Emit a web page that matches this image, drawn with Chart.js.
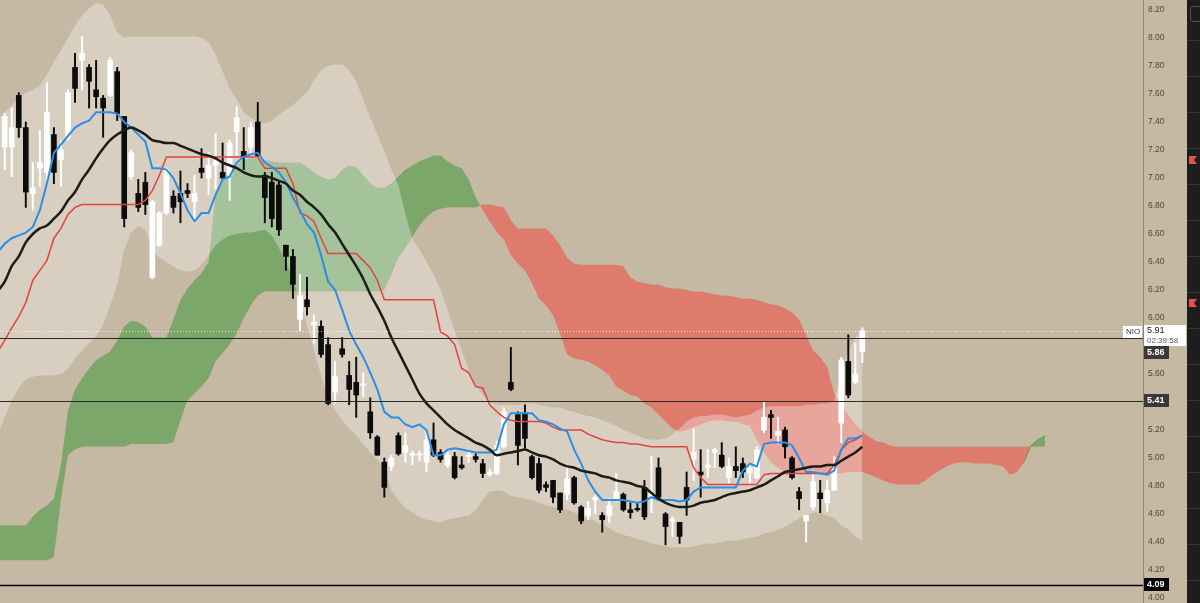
<!DOCTYPE html>
<html>
<head>
<meta charset="utf-8">
<script src="https://cdn.jsdelivr.net/npm/chart.js@4.4.1/dist/chart.umd.min.js"></script>
<style>
  html, body { margin: 0; padding: 0; background: #c6b9a4; }
  #wrap { width: 1200px; height: 603px; }
</style>
</head>
<body>
<div id="wrap"><canvas id="nio" width="1200" height="603"></canvas></div>
<script>
// daily candles, index 0..122
const opens = [7.22,7.22,7.59,7.36,6.89,7.07,7.04,7.31,7.13,7.29,
  7.79,7.84,7.79,7.63,7.57,7.59,7.76,7.44,7.01,6.89,
  6.97,6.29,6.52,6.75,6.87,6.89,6.91,6.83,7.07,7.00,
  7.09,7.04,7.02,7.33,7.19,7.22,7.40,7.02,6.97,6.95,
  6.52,6.44,5.99,6.13,5.95,5.94,5.81,5.47,5.78,5.59,
  5.54,5.52,5.33,5.15,4.97,4.94,5.16,5.04,5.02,5.02,
  4.97,5.13,5.04,4.95,5.01,4.95,5.01,5.01,4.96,4.88,
  4.89,5.08,5.54,5.31,5.32,5.01,4.96,4.81,4.84,4.75,
  4.74,4.86,4.65,4.59,4.70,4.59,4.59,4.70,4.74,4.63,
  4.64,4.79,4.72,4.93,4.60,4.55,4.54,4.79,4.99,4.90,
  4.93,5.04,5.02,4.86,4.94,4.96,4.89,4.86,5.20,5.31,
  5.16,5.20,5.00,4.76,4.55,4.65,4.75,4.68,4.77,5.25,
  5.69,5.54,5.76];
const highs = [7.46,7.50,7.61,7.40,7.11,7.34,7.68,7.36,7.27,7.63,
  7.89,8.01,7.81,7.84,7.59,7.86,7.79,7.44,7.20,6.99,
  7.04,6.84,6.76,7.07,6.91,7.05,6.96,7.02,7.21,7.18,
  7.32,7.25,7.27,7.51,7.36,7.40,7.54,7.04,7.04,6.97,
  6.52,6.49,6.31,6.29,6.02,5.98,5.86,5.69,5.86,5.69,
  5.72,5.61,5.43,5.16,5.00,5.02,5.18,5.18,5.05,5.05,
  5.19,5.25,5.06,5.04,5.04,5.01,5.04,5.03,4.99,4.92,
  5.12,5.36,5.79,5.33,5.38,5.02,5.00,4.83,4.84,4.75,
  4.95,4.87,4.66,4.69,4.73,4.61,4.71,4.89,4.75,4.68,
  4.68,4.84,5.01,5.00,4.61,4.58,4.54,4.90,5.21,5.06,
  5.06,5.07,5.11,5.00,5.08,5.00,4.94,5.08,5.40,5.34,
  5.29,5.22,5.01,4.79,4.59,4.91,4.84,4.84,5.01,5.72,
  5.88,5.82,5.93];
const lows = [7.06,7.01,7.29,6.79,6.77,6.94,6.99,6.96,6.94,7.27,
  7.54,7.63,7.50,7.50,7.29,7.58,7.41,6.65,6.99,6.76,
  6.74,6.28,6.51,6.74,6.75,6.68,6.86,6.68,7.00,6.88,
  6.92,6.99,6.84,7.16,7.06,7.17,7.15,6.68,6.65,6.59,
  6.34,6.14,5.91,6.02,5.82,5.72,5.38,5.39,5.72,5.38,
  5.29,5.44,5.14,5.02,4.72,4.91,5.02,4.97,4.95,4.98,
  4.90,5.01,4.97,4.93,4.85,4.92,4.97,4.97,4.86,4.87,
  4.88,5.07,5.48,4.95,5.07,4.85,4.75,4.76,4.68,4.61,
  4.70,4.67,4.53,4.56,4.60,4.47,4.54,4.69,4.62,4.57,
  4.62,4.56,4.61,4.70,4.38,4.44,4.39,4.59,4.84,4.72,
  4.86,4.93,4.93,4.82,4.86,4.86,4.82,4.85,5.18,5.14,
  5.10,5.00,4.85,4.63,4.40,4.63,4.61,4.62,4.77,5.11,
  5.43,5.53,5.68];
const closes = [7.44,7.36,7.36,6.90,6.93,7.11,7.47,7.04,7.20,7.61,
  7.64,7.89,7.69,7.58,7.50,7.84,7.46,6.71,7.18,6.79,
  6.81,6.83,6.75,7.06,6.79,6.83,6.89,6.89,7.04,7.09,
  7.12,7.00,7.25,7.43,7.15,7.36,7.16,6.86,6.71,6.63,
  6.44,6.24,6.16,6.08,5.97,5.74,5.39,5.58,5.74,5.49,
  5.45,5.53,5.18,5.02,4.79,5.00,5.03,5.09,5.03,5.03,
  5.13,5.02,4.99,5.02,4.86,4.93,5.02,4.99,4.89,4.90,
  5.09,5.33,5.49,5.09,5.14,4.86,4.77,4.79,4.72,4.63,
  4.85,4.68,4.55,4.64,4.72,4.56,4.66,4.76,4.63,4.61,
  4.63,4.58,4.75,4.72,4.51,4.56,4.44,4.70,5.04,4.88,
  4.95,5.06,4.94,4.94,4.91,4.90,4.93,5.06,5.29,5.29,
  5.19,5.08,4.86,4.71,4.59,4.83,4.71,4.77,4.94,5.70,
  5.45,5.60,5.91];

// the series below start one bar earlier (index -1, just off the left edge)
// conversion line (blue), base line (red), moving average (black)
const tenkan = [6.47,
  6.53,6.57,6.59,6.61,6.65,6.77,6.96,7.18,7.24,7.30,
  7.36,7.39,7.41,7.47,7.47,7.47,7.46,7.40,7.36,7.31,
  7.26,7.07,7.07,7.06,7.00,6.89,6.77,6.69,6.75,6.75,
  6.88,6.99,7.01,7.11,7.15,7.17,7.18,7.11,7.08,7.04,
  6.97,6.86,6.77,6.67,6.61,6.45,6.26,6.20,6.06,5.91,
  5.81,5.72,5.61,5.49,5.33,5.29,5.29,5.24,5.22,5.24,
  5.20,5.02,5.02,5.06,5.07,5.06,5.05,5.04,5.04,5.04,
  5.06,5.24,5.32,5.32,5.32,5.32,5.27,5.26,5.24,5.21,
  5.19,5.06,4.96,4.84,4.76,4.70,4.70,4.70,4.70,4.69,
  4.68,4.69,4.72,4.70,4.70,4.70,4.69,4.70,4.76,4.79,
  4.79,4.79,4.79,4.79,4.79,4.91,4.96,4.94,5.10,5.11,
  5.11,5.11,5.09,5.00,4.90,4.90,4.89,4.88,4.91,5.06,
  5.14,5.14,5.16];
const kijun = [5.76,
  5.84,5.93,6.01,6.11,6.27,6.34,6.41,6.57,6.64,6.74,
  6.79,6.81,6.81,6.81,6.81,6.81,6.81,6.81,6.81,6.81,
  6.84,6.91,7.02,7.15,7.15,7.15,7.15,7.15,7.15,7.15,
  7.15,7.15,7.15,7.15,7.15,7.15,7.15,7.07,7.07,7.07,
  7.07,6.96,6.75,6.73,6.69,6.57,6.46,6.46,6.46,6.46,
  6.46,6.41,6.36,6.27,6.13,6.13,6.13,6.13,6.13,6.13,
  6.13,6.13,5.90,5.87,5.81,5.64,5.61,5.51,5.50,5.38,
  5.33,5.29,5.27,5.26,5.26,5.26,5.26,5.25,5.22,5.20,
  5.20,5.20,5.20,5.17,5.15,5.13,5.12,5.11,5.11,5.10,
  5.10,5.09,5.08,5.08,5.08,5.08,5.08,5.08,4.93,4.86,
  4.81,4.81,4.81,4.81,4.81,4.81,4.81,4.81,4.88,4.89,
  4.89,4.89,4.89,4.89,4.89,4.89,4.89,4.89,4.95,5.06,
  5.11,5.13,5.16];
const movingAvg = [6.19,
  6.26,6.37,6.44,6.54,6.60,6.64,6.66,6.71,6.76,6.84,
  6.90,6.99,7.06,7.14,7.21,7.27,7.31,7.34,7.36,7.34,
  7.31,7.27,7.26,7.25,7.25,7.23,7.21,7.19,7.17,7.16,
  7.14,7.11,7.09,7.07,7.04,7.02,7.01,7.01,7.00,6.98,
  6.96,6.91,6.88,6.83,6.79,6.74,6.67,6.61,6.53,6.45,
  6.37,6.28,6.17,6.08,5.98,5.86,5.76,5.66,5.56,5.46,
  5.39,5.34,5.29,5.24,5.20,5.17,5.14,5.11,5.09,5.06,
  5.02,5.03,5.04,5.05,5.06,5.04,5.02,5.01,4.99,4.96,
  4.94,4.93,4.91,4.90,4.89,4.87,4.86,4.84,4.83,4.82,
  4.80,4.79,4.75,4.71,4.68,4.66,4.65,4.65,4.66,4.68,
  4.69,4.70,4.72,4.74,4.75,4.76,4.77,4.79,4.81,4.84,
  4.87,4.90,4.91,4.92,4.93,4.94,4.94,4.95,4.95,4.98,
  5.01,5.04,5.08];

// bollinger bands
const bbUpper = [7.42,
  7.47,7.52,7.57,7.61,7.63,7.66,7.74,7.83,7.91,8.00,
  8.09,8.16,8.21,8.25,8.24,8.16,8.04,8.00,8.01,8.01,
  8.01,8.01,8.01,8.01,8.01,8.01,8.01,8.01,8.00,7.97,
  7.88,7.76,7.64,7.56,7.47,7.43,7.40,7.39,7.41,7.45,
  7.49,7.52,7.57,7.61,7.70,7.77,7.80,7.81,7.81,7.77,
  7.69,7.56,7.43,7.31,7.19,7.06,6.95,6.74,6.56,6.49,
  6.40,6.31,6.20,6.06,5.91,5.77,5.63,5.52,5.45,5.40,
  5.38,5.38,5.38,5.38,5.39,5.39,5.38,5.37,5.36,5.36,
  5.34,5.33,5.31,5.30,5.29,5.27,5.25,5.23,5.20,5.18,
  5.16,5.14,5.13,5.13,5.14,5.17,5.21,5.26,5.29,5.30,
  5.30,5.31,5.31,5.30,5.29,5.30,5.31,5.34,5.36,5.37,
  5.37,5.37,5.37,5.37,5.38,5.38,5.39,5.39,5.41,5.59,
  5.76,5.86,5.91];
const bbLower = [5.17,
  5.29,5.41,5.50,5.56,5.58,5.59,5.59,5.59,5.60,5.64,
  5.71,5.77,5.82,5.87,5.95,6.09,6.24,6.49,6.61,6.66,
  6.63,6.50,6.43,6.40,6.37,6.34,6.33,6.34,6.38,6.45,
  6.52,6.56,6.59,6.60,6.61,6.61,6.62,6.63,6.59,6.50,
  6.40,6.27,6.13,5.95,5.77,5.59,5.43,5.34,5.27,5.21,
  5.16,5.10,5.04,4.99,4.93,4.77,4.70,4.64,4.61,4.58,
  4.56,4.55,4.54,4.56,4.57,4.58,4.59,4.63,4.70,4.76,
  4.77,4.76,4.73,4.72,4.71,4.70,4.68,4.66,4.65,4.64,
  4.63,4.61,4.59,4.57,4.55,4.52,4.50,4.47,4.45,4.44,
  4.42,4.41,4.39,4.38,4.37,4.36,4.36,4.36,4.37,4.38,
  4.39,4.39,4.40,4.41,4.41,4.42,4.43,4.44,4.46,4.47,
  4.49,4.51,4.54,4.57,4.59,4.61,4.61,4.59,4.57,4.52,
  4.49,4.44,4.41];

// leading spans, already shifted forward (index -1..148)
const spanA = [4.52,
  4.52,4.52,4.52,4.52,4.58,4.63,4.66,4.71,4.95,5.34,
  5.49,5.57,5.64,5.70,5.73,5.76,5.84,5.94,5.98,5.97,
  5.94,5.86,5.86,5.86,5.99,6.13,6.21,6.27,6.32,6.40,
  6.88,6.99,7.06,7.09,7.13,7.14,7.14,7.13,7.12,7.11,
  7.11,7.11,7.11,7.08,7.04,7.01,6.99,7.00,7.06,7.09,
  7.08,7.02,6.96,6.93,6.93,6.96,7.01,7.06,7.09,7.12,
  7.14,7.16,7.16,7.12,7.09,7.07,6.99,6.86,6.77,6.69,
  6.61,6.56,6.45,6.39,6.34,6.25,6.14,6.09,6.02,5.89,
  5.74,5.71,5.70,5.69,5.66,5.63,5.59,5.51,5.48,5.45,
  5.44,5.39,5.36,5.31,5.26,5.21,5.19,5.20,5.22,5.24,
  5.26,5.27,5.27,5.26,5.26,5.24,5.23,5.13,5.04,4.97,
  4.93,4.90,4.89,4.89,4.89,4.89,4.89,4.89,4.89,4.89,
  4.90,4.90,4.90,4.88,4.86,4.84,4.82,4.81,4.81,4.81,
  4.81,4.84,4.88,4.91,4.94,4.96,4.97,4.97,4.96,4.96,
  4.96,4.95,4.94,4.88,4.90,4.97,5.09,5.13,5.16];
const spanB = [4.27,
  4.27,4.27,4.27,4.27,4.27,4.27,4.27,4.29,4.70,5.02,
  5.06,5.08,5.08,5.08,5.08,5.08,5.08,5.08,5.10,5.10,
  5.10,5.10,5.10,5.10,5.11,5.27,5.41,5.46,5.51,5.57,
  5.69,5.75,5.81,5.89,6.00,6.09,6.16,6.19,6.19,6.19,
  6.19,6.19,6.19,6.19,6.19,6.19,6.19,6.19,6.19,6.19,
  6.19,6.19,6.19,6.19,6.20,6.31,6.43,6.50,6.58,6.66,
  6.72,6.76,6.78,6.79,6.79,6.79,6.79,6.79,6.81,6.81,
  6.80,6.79,6.70,6.64,6.64,6.64,6.64,6.64,6.59,6.52,
  6.43,6.39,6.38,6.38,6.38,6.38,6.38,6.38,6.37,6.29,
  6.26,6.25,6.24,6.24,6.22,6.21,6.21,6.20,6.19,6.19,
  6.18,6.17,6.16,6.16,6.15,6.14,6.14,6.13,6.11,6.10,
  6.09,6.07,6.04,5.99,5.88,5.77,5.72,5.65,5.46,5.38,
  5.31,5.24,5.19,5.15,5.12,5.11,5.09,5.08,5.08,5.08,
  5.08,5.08,5.08,5.08,5.08,5.08,5.08,5.08,5.08,5.08,
  5.08,5.08,5.08,5.08,5.08,5.08,5.08,5.08,5.08];

const priceTicks = [4.0,4.2,4.4,4.6,4.8,5.0,5.2,5.4,5.6,5.8,6.0,6.2,6.4,6.6,6.8,7.0,7.2,7.4,7.6,7.8,8.0,8.2];
const levelLines = [5.86, 5.41, 4.09];
const lastPrice = 5.91;
const symbol = "NIO";
const countdown = "02:39:58";

const BG = "#c6b9a4";
const FONT = '"Liberation Sans", Arial, sans-serif';

// indicator arrays carry one extra leading bar
function pts(arr, start = -1) {
  return arr.map((v, i) => ({ x: i + start, y: v }));
}
function candleColor(ctx) {
  const i = ctx.dataIndex;
  return closes[i] >= opens[i] ? "#ffffff" : "#0c0c0c";
}

const backgroundPlugin = {
  id: "bg",
  beforeDraw(chart) {
    const c = chart.ctx;
    c.save();
    c.fillStyle = BG;
    c.fillRect(0, 0, chart.width, chart.height);
    c.restore();
  }
};

const levelsPlugin = {
  id: "levels",
  afterDatasetsDraw(chart) {
    const c = chart.ctx;
    const y = chart.scales.y;
    const area = chart.chartArea;
    c.save();
    // last price dotted line
    c.strokeStyle = "rgba(255,255,255,0.75)";
    c.lineWidth = 1;
    c.setLineDash([1, 2]);
    let py = Math.round(y.getPixelForValue(lastPrice)) + 0.5;
    c.beginPath();
    c.moveTo(area.left, py);
    c.lineTo(1123, py);
    c.stroke();
    c.setLineDash([]);
    levelLines.forEach((v, k) => {
      const ly = Math.round(y.getPixelForValue(v)) + 0.5;
      c.strokeStyle = k === 2 ? "#000000" : "#2d2a26";
      c.lineWidth = k === 2 ? 1.5 : 1;
      c.beginPath();
      c.moveTo(area.left, ly);
      c.lineTo(area.right, ly);
      c.stroke();
    });
    c.restore();
  },
  afterDraw(chart) {
    const c = chart.ctx;
    const y = chart.scales.y;
    const x0 = chart.chartArea.right;
    c.save();
    c.textBaseline = "middle";

    // last price box and symbol tag
    const ly = Math.round(y.getPixelForValue(lastPrice));
    const boxBottom = ly + 15;
    c.fillStyle = "#ffffff";
    c.fillRect(1123, ly - 5, 19, 12);
    c.fillRect(x0 + 1, ly - 6, 42, 21);
    c.fillStyle = "#3a3a3a";
    c.font = "8px " + FONT;
    c.fillText(symbol, 1126, ly + 1);
    c.fillStyle = "#222222";
    c.font = "9px " + FONT;
    c.fillText(lastPrice.toFixed(2), x0 + 4, ly);
    c.fillStyle = "#5a5a5a";
    c.font = "8px " + FONT;
    c.fillText(countdown, x0 + 4, ly + 9.5);

    // level badges, pushed below the price box when they would overlap it
    levelLines.forEach((v, k) => {
      let by = Math.round(y.getPixelForValue(v));
      if (by - 7 < boxBottom && by + 7 > ly - 6) by = boxBottom + 7;
      c.fillStyle = k === 2 ? "#000000" : "#3b3935";
      c.fillRect(x0 + 1, by - 7, 25, 13);
      c.fillStyle = "#ffffff";
      c.font = "bold 9px " + FONT;
      c.fillText(v.toFixed(2), x0 + 4, by);
    });

    // right toolbar strip
    c.fillStyle = "#1d1d1d";
    c.fillRect(1187, 0, 13, chart.height);
    c.strokeStyle = "#333333";
    c.lineWidth = 1;
    for (let sy = 40; sy < chart.height; sy += 36) {
      c.beginPath();
      c.moveTo(1187, sy + 0.5);
      c.lineTo(1200, sy + 0.5);
      c.stroke();
    }
    c.strokeStyle = "#555555";
    c.beginPath();
    c.roundRect(1190.5, 6.5, 12, 15, 3);
    c.stroke();
    c.fillStyle = "#e2524c";
    [160, 303].forEach(my => {
      c.beginPath();
      c.moveTo(1189, my - 4);
      c.lineTo(1197, my - 4);
      c.lineTo(1194, my);
      c.lineTo(1197, my + 4);
      c.lineTo(1189, my + 4);
      c.closePath();
      c.fill();
    });
    c.restore();
  }
};

const ctx = document.getElementById("nio");

new Chart(ctx, {
  type: "bar",
  data: {
    datasets: [
      {
        type: "line",
        label: "span B",
        data: pts(spanB),
        borderWidth: 0,
        borderColor: "transparent",
        pointRadius: 0,
        fill: false,
        order: 20
      },
      {
        type: "line",
        label: "span A",
        data: pts(spanA),
        borderWidth: 1,
        borderColor: "transparent",
        segment: {
          borderColor: c => (c.p0DataIndex >= 146 ? "#5f9e5a" : "transparent")
        },
        pointRadius: 0,
        fill: { target: 0, above: "#7ba76b", below: "#de7b6d" },
        order: 19
      },
      {
        type: "line",
        label: "bb upper",
        data: pts(bbUpper),
        borderWidth: 0,
        borderColor: "transparent",
        pointRadius: 0,
        fill: false,
        order: 18
      },
      {
        type: "line",
        label: "bb lower",
        data: pts(bbLower),
        borderWidth: 0,
        borderColor: "transparent",
        pointRadius: 0,
        fill: { target: 2, above: "rgba(255,255,255,0.32)", below: "rgba(255,255,255,0.32)" },
        order: 17
      },
      {
        type: "bar",
        label: "wicks",
        data: lows.map((l, i) => ({ x: i, y: [l, highs[i]] })),
        backgroundColor: candleColor,
        barThickness: 1.3,
        grouped: false,
        order: 8
      },
      {
        type: "bar",
        label: "bodies",
        data: opens.map((o, i) => ({ x: i, y: [o, closes[i]] })),
        backgroundColor: candleColor,
        barThickness: 5,
        minBarLength: 1.5,
        grouped: false,
        order: 7
      },
      {
        type: "line",
        label: "kijun",
        data: pts(kijun),
        borderColor: "#e0443d",
        borderWidth: 1.5,
        pointRadius: 0,
        fill: false,
        order: 5
      },
      {
        type: "line",
        label: "tenkan",
        data: pts(tenkan),
        borderColor: "#2b8ee6",
        borderWidth: 2,
        pointRadius: 0,
        fill: false,
        order: 4
      },
      {
        type: "line",
        label: "ma",
        data: pts(movingAvg),
        borderColor: "#1d1c18",
        borderWidth: 2.5,
        pointRadius: 0,
        cubicInterpolationMode: "monotone",
        fill: false,
        order: 3
      }
    ]
  },
  options: {
    responsive: false,
    animation: false,
    layout: { padding: 0 },
    plugins: {
      legend: { display: false },
      tooltip: { enabled: false }
    },
    scales: {
      x: {
        type: "linear",
        min: -0.67,
        max: 161.92,
        offset: false,
        display: false
      },
      y: {
        type: "linear",
        position: "right",
        min: 3.9643,
        max: 8.2714,
        grid: { display: false, drawTicks: false },
        border: { display: true, color: "#8f8472" },
        ticks: {
          color: "#4b4742",
          padding: 5,
          font: { size: 8.5, family: FONT },
          callback: v => v.toFixed(2)
        },
        afterBuildTicks: scale => {
          scale.ticks = priceTicks.map(v => ({ value: v }));
        },
        afterFit: scale => {
          scale.width = 57;
          scale.paddingTop = 0;
          scale.paddingBottom = 0;
        }
      }
    }
  },
  plugins: [backgroundPlugin, levelsPlugin]
});
</script>
</body>
</html>
